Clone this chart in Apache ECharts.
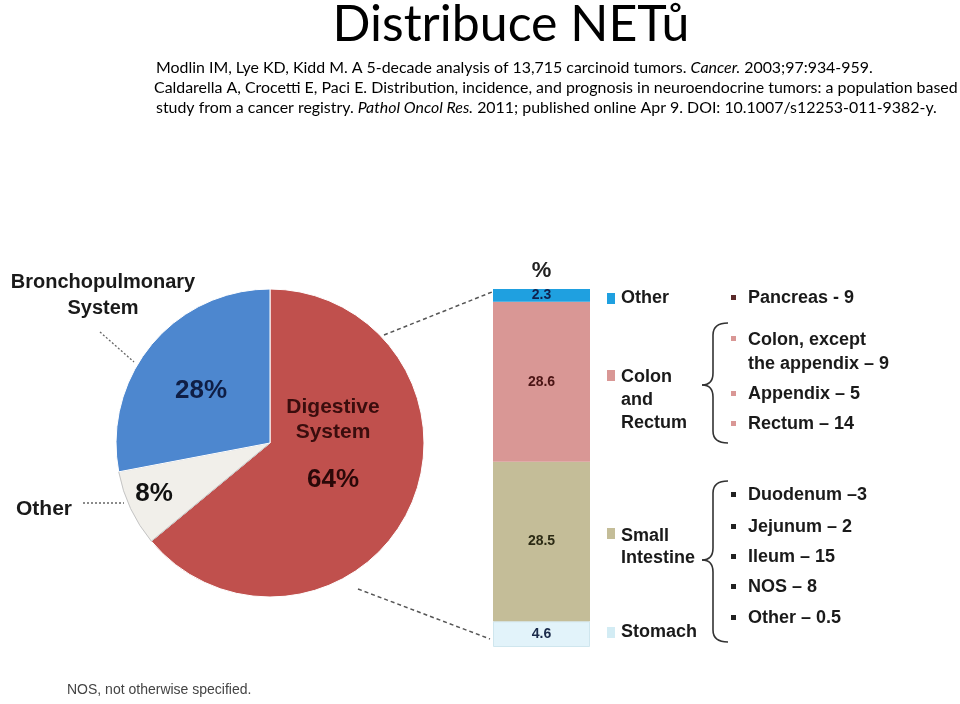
<!DOCTYPE html>
<html><head><meta charset="utf-8">
<script src="https://cdn.jsdelivr.net/npm/echarts@6/dist/echarts.min.js"></script>
<style>html,body{margin:0;padding:0;background:#fff}#c{width:960px;height:704px}</style>
</head><body><div id="c"></div>
<script>
// ---- data ----
const titleText = 'Distribuce NETů';
const refLine1 = ['Modlin IM, Lye KD, Kidd M. A 5-decade analysis of 13,715 carcinoid tumors. ', 'Cancer.', ' 2003;97:934-959.'];
const refLine2 = ['Caldarella A, Crocetti E, Paci E. Distribution, incidence, and prognosis in neuroendocrine tumors: a population based'];
const refLine3 = ['study from a cancer registry. ', 'Pathol Oncol Res.', ' 2011; published online Apr 9. DOI: 10.1007/s12253-011-9382-y.'];
const pieCategories = ['Digestive\nSystem', 'Other', 'Bronchopulmonary\nSystem'];
const pieValues = [64, 8, 28];
const barCategories = ['Stomach', 'Small\nIntestine', 'Colon\nand\nRectum', 'Other'];
const barValues = [4.6, 28.5, 28.6, 2.3];
const barAxisLabels = ['%'];
const otherItems = ['Pancreas - 9'];
const colonItems = ['Colon, except\nthe appendix – 9', 'Appendix – 5', 'Rectum – 14'];
const smallIntestineItems = ['Duodenum –3', 'Jejunum – 2', 'Ileum – 15', 'NOS – 8', 'Other – 0.5'];
const footnote = 'NOS, not otherwise specified.';

// ---- styles ----
const pieColors = ['#C0504D', '#F1EFEA', '#4D87CF'];
const barColors = ['#E2F3FA', '#C4BD98', '#D99795', '#1FA0E0'];
const barLabelColors = ['#1a2a4a', '#2b2a14', '#4a1414', '#10214d'];
const AR = 'Liberation Sans, Arial, sans-serif';
const CAL = 'Lato';

function fitSize(text, family, weight, target) {
  const ctx = document.createElement('canvas').getContext('2d');
  ctx.font = (weight || 'normal') + ' 100px ' + family;
  return 100 * target / ctx.measureText(text).width;
}
const titleSize = fitSize(titleText, CAL, 'normal', 357);
const refSize = fitSize(refLine2.join(''), CAL, 'normal', 804);

function txt(x, y, text, o) {
  o = o || {};
  return {
    type: 'text', x: x, y: y, silent: true, z: 100,
    style: {
      text: text, fill: o.fill || '#111', fontSize: o.size || 18, fontFamily: o.family || AR,
      fontWeight: o.weight || 'bold', fontStyle: o.style || 'normal',
      align: o.align || 'left', verticalAlign: o.valign || 'middle',
      textAlign: o.align || 'left', textVerticalAlign: o.valign || 'middle',
      lineHeight: o.lh, rich: o.rich
    }
  };
}
function line(x1, y1, x2, y2, dash, w, c) {
  return { type: 'line', silent: true, z: 100, shape: { x1, y1, x2, y2 },
    style: { stroke: c || '#555', lineWidth: w || 1.5, lineDash: dash || null } };
}
function quad(x1, y1, cx, cy, x2, y2) {
  return { type: 'bezierCurve', silent: true, z: 100, shape: { x1, y1, x2, y2, cpx1: cx, cpy1: cy },
    style: { stroke: '#333', lineWidth: 1.6, fill: null } };
}
function brace(xr, xs, xt, top, tip, bot) {
  const r = 12;
  return [
    quad(xr, top, xs, top, xs, top + r),
    line(xs, top + r, xs, tip - r, null, 1.6, '#333'),
    quad(xs, tip - r, xs, tip, xt, tip),
    quad(xt, tip, xs, tip, xs, tip + r),
    line(xs, tip + r, xs, bot - r, null, 1.6, '#333'),
    quad(xs, bot - r, xs, bot, xr, bot)
  ];
}
function rich(parts) {
  return parts.map((p, i) => i % 2 === 1 ? '{i|' + p + '}' : p).join('');
}

const graphics = [];
// title + references
graphics.push(txt(511, 25, titleText, { size: titleSize, family: CAL, weight: 'normal', align: 'center', fill: '#000' }));
const richStyle = { i: { fontStyle: 'italic', fontSize: refSize, fontFamily: CAL, fill: '#000' } };
[[refLine1, 156, 68], [refLine2, 154, 88], [refLine3, 156, 108]].forEach(r => {
  graphics.push(txt(r[1], r[2], rich(r[0]), { size: refSize, family: CAL, weight: 'normal', fill: '#000', rich: richStyle }));
});

// pie annotations
graphics.push(txt(103, 295, pieCategories[2], { size: 20, align: 'center', lh: 26, fill: '#1a1a1a' }));
graphics.push(line(100, 332, 134, 362, [2, 2], 1.3, '#666'));
graphics.push(txt(44, 509, pieCategories[1], { size: 21, align: 'center', fill: '#1a1a1a' }));
graphics.push(line(83, 503, 124, 503, [2, 2], 1.3, '#666'));
graphics.push(txt(201, 391, pieValues[2] + '%', { size: 26, align: 'center', fill: '#0f1e45' }));
graphics.push(txt(333, 420, pieCategories[0], { size: 21, align: 'center', lh: 25, fill: '#3a0d0d' }));
graphics.push(txt(333, 480, pieValues[0] + '%', { size: 26, align: 'center', fill: '#2a0808' }));
graphics.push(txt(154, 494, pieValues[1] + '%', { size: 26, align: 'center', fill: '#111' }));
// connectors
graphics.push(line(384, 335, 492, 292, [4, 3], 1.5, '#555'));
graphics.push(line(358, 589, 490, 639, [4, 3], 1.5, '#555'));

// legend squares + labels
const legendPos = [[632, 627], [547, 528], [400, 370], [298, 293]];
const legendLH = [22, 22, 23, 22];
for (let i = 0; i < barCategories.length; i++) {
  graphics.push({ type: 'rect', silent: true, z: 100, shape: { x: 607, y: legendPos[i][1], width: 8, height: 11 },
    style: { fill: i === 0 ? '#D3ECF4' : barColors[i] } });
  graphics.push(txt(621, legendPos[i][0], barCategories[i], { size: 18, lh: legendLH[i], fill: '#1a1a1a' }));
}

// bullet lists
function bullets(items, ys, color) {
  items.forEach((t, i) => {
    graphics.push({ type: 'rect', silent: true, z: 100, shape: { x: 731, y: ys[i] - 3, width: 5, height: 5 }, style: { fill: color } });
    const multi = t.indexOf('\n') >= 0;
    graphics.push(txt(748, multi ? ys[i] - 11 : ys[i], t, { size: 18, lh: 24, valign: multi ? 'top' : 'middle', fill: '#1a1a1a' }));
  });
}
bullets(otherItems, [298], '#5a2a2a');
bullets(colonItems, [339, 394, 424], '#D99795');
bullets(smallIntestineItems, [495, 527, 557, 587, 618], '#222');
brace(728, 713, 702, 323, 385, 443).forEach(g => graphics.push(g));
brace(728, 713, 702, 481, 560, 642).forEach(g => graphics.push(g));

// footnote
graphics.push(txt(67, 690, footnote, { size: 14, weight: 'normal', fill: '#444' }));

const chart = echarts.init(document.getElementById('c'), null, { renderer: 'canvas' });
chart.setOption({
  animation: false,
  backgroundColor: '#fff',
  grid: { left: 493, top: 289, width: 97, height: 358 },
  xAxis: { type: 'category', data: barAxisLabels, position: 'top',
    axisLine: { show: false }, axisTick: { show: false }, splitLine: { show: false },
    axisLabel: { fontSize: 22, fontWeight: 'bold', color: '#222', margin: 7, fontFamily: AR } },
  yAxis: { type: 'value', min: 0, max: 64, show: false },
  series: [
    {
      type: 'pie', center: [270, 443], radius: 154, startAngle: 90, clockwise: true, silent: true,
      label: { show: false }, labelLine: { show: false },
      data: pieValues.map((v, i) => ({ name: pieCategories[i], value: v,
        itemStyle: { color: pieColors[i], borderColor: i === 1 ? '#c4c4c4' : '#ffffff', borderWidth: 1 } }))
    }
  ].concat(barValues.map((v, i) => ({
    type: 'bar', stack: 'total', name: barCategories[i], data: [v], barWidth: '100%', silent: true,
    itemStyle: { color: barColors[i], borderColor: i === 0 ? '#cfe6ee' : barColors[i], borderWidth: i === 0 ? 1 : 0 },
    label: { show: true, position: 'inside', formatter: () => v.toFixed(1), fontSize: 14, fontWeight: 'bold',
      color: barLabelColors[i], fontFamily: AR }
  }))),
  graphic: graphics
});
</script></body></html>
